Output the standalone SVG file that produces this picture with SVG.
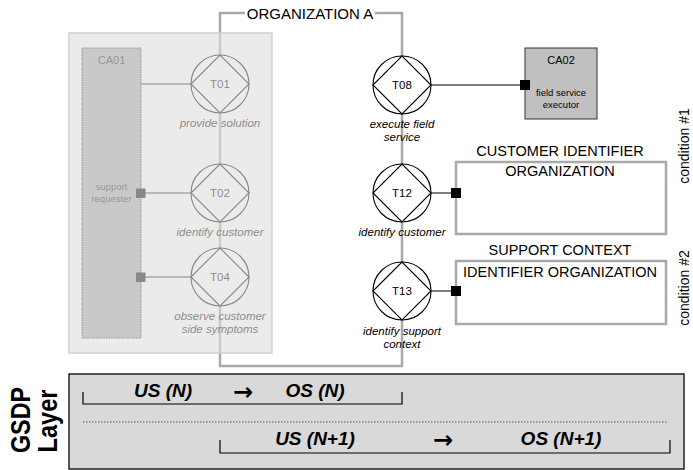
<svg xmlns="http://www.w3.org/2000/svg" width="693" height="470" viewBox="0 0 693 470">
<defs>
<style>
text{font-family:"Liberation Sans",Arial,sans-serif;}
.org{fill:none;stroke:#a9a9a9;stroke-width:2.5;}
.tc{fill:#fff;stroke:#000;stroke-width:1.1;}
.td{fill:none;stroke:#000;stroke-width:1.1;}
.tl{font-size:11.5px;text-anchor:middle;fill:#000;}
.ti{font-size:11.5px;font-style:italic;text-anchor:middle;fill:#000;}
.ln{stroke:#000;stroke-width:1.1;fill:none;}
.sq{fill:#000;}
.cap{font-size:14.5px;text-anchor:middle;fill:#000;}
.box{fill:#fff;stroke:#a9a9a9;stroke-width:2.5;}
.row{font-size:19px;font-weight:bold;font-style:italic;text-anchor:middle;fill:#000;}
.arr{font-family:"DejaVu Sans",sans-serif;font-size:24px;font-weight:bold;text-anchor:middle;fill:#000;}
.brk{fill:none;stroke:#000;stroke-width:1.2;}
.cond{font-size:14px;text-anchor:middle;fill:#000;}
</style>
<g id="task">
<circle class="tc" cx="0" cy="0" r="29"/>
<path class="td" d="M-29,0 L0,-29 L29,0 L0,29 Z"/>
</g>
</defs>

<g id="organization-a">
<path class="org" d="M245,13 H220 V366 H402 V13 H375"/>
<text x="310" y="19" font-size="15" text-anchor="middle" fill="#000">ORGANIZATION A</text>
</g>

<g id="left-part">
<g id="CA01">
<rect x="82" y="48" width="59" height="290" fill="#a8a8a8" stroke="#222" stroke-width="1" stroke-dasharray="1.5 1"/>
<text x="111.5" y="64" font-size="11" text-anchor="middle" fill="#222">CA01</text>
<text x="111.5" y="190" font-size="9.5" text-anchor="middle" fill="#222">support</text>
<text x="111.5" y="202" font-size="9.5" text-anchor="middle" fill="#222">requester</text>
</g>
<g id="left-connectors">
<path class="ln" d="M141,84 H191 M141,193 H191 M141,277 H191"/>
<rect class="sq" x="136" y="188.5" width="9.5" height="9.5"/>
<rect class="sq" x="136" y="272.5" width="9.5" height="9.5"/>
</g>
<g id="T01">
<use href="#task" x="220" y="84"/>
<text class="tl" x="220" y="88">T01</text>
<text class="ti" x="220" y="127">provide solution</text>
</g>
<g id="T02">
<use href="#task" x="220" y="193"/>
<text class="tl" x="220" y="197">T02</text>
<text class="ti" x="220" y="236">identify customer</text>
</g>
<g id="T04">
<use href="#task" x="220" y="277"/>
<text class="tl" x="220" y="281">T04</text>
<text class="ti" x="220" y="320">observe customer</text>
<text class="ti" x="220" y="333">side symptoms</text>
</g>
<rect id="fade-panel" x="69" y="33" width="203" height="320" fill="#dfdfdf" fill-opacity="0.61" stroke="#cfcfcf" stroke-width="1.5"/>
</g>

<g id="connectors">
<path class="ln" d="M431,85 H525 M431,193 H456 M431,291 H456"/>
</g>

<g id="T08">
<use href="#task" x="402" y="85"/>
<text class="tl" x="402" y="89">T08</text>
<text class="ti" x="402" y="128">execute field</text>
<text class="ti" x="402" y="141">service</text>
</g>
<g id="T12">
<use href="#task" x="402" y="193"/>
<text class="tl" x="402" y="197">T12</text>
<text class="ti" x="402" y="236">identify customer</text>
</g>
<g id="T13">
<use href="#task" x="402" y="291"/>
<text class="tl" x="402" y="295">T13</text>
<text class="ti" x="402" y="335">identify support</text>
<text class="ti" x="402" y="348">context</text>
</g>

<g id="CA02">
<rect x="525" y="48" width="72" height="71" fill="#c0c0c0" stroke="#333" stroke-width="1"/>
<text x="561" y="64" font-size="11" text-anchor="middle" fill="#000">CA02</text>
<text x="561" y="96" font-size="9.5" text-anchor="middle" fill="#000">field service</text>
<text x="561" y="108" font-size="9.5" text-anchor="middle" fill="#000">executor</text>
<rect class="sq" x="520" y="80" width="10" height="10"/>
</g>

<g id="customer-identifier-organization">
<text class="cap" x="560" y="156">CUSTOMER IDENTIFIER</text>
<rect class="box" x="456" y="162" width="210" height="72"/>
<text class="cap" x="560" y="176">ORGANIZATION</text>
<rect class="sq" x="451" y="188" width="10" height="10"/>
</g>

<g id="support-context-identifier-organization">
<text class="cap" x="560" y="255">SUPPORT CONTEXT</text>
<rect class="box" x="456" y="261" width="210" height="63"/>
<text class="cap" x="560" y="277">IDENTIFIER ORGANIZATION</text>
<rect class="sq" x="451" y="286" width="10" height="10"/>
</g>

<g id="conditions">
<text class="cond" x="689" y="146" transform="rotate(-90 689 146)">condition #1</text>
<text class="cond" x="689" y="288" transform="rotate(-90 689 288)">condition #2</text>
</g>

<g id="gsdp-layer">
<text x="30" y="420" font-size="28" font-weight="bold" text-anchor="middle" textLength="66" lengthAdjust="spacingAndGlyphs" transform="rotate(-90 30 420)" fill="#000">GSDP</text>
<text x="57" y="421" font-size="28" font-weight="bold" text-anchor="middle" textLength="63" lengthAdjust="spacingAndGlyphs" transform="rotate(-90 57 421)" fill="#000">Layer</text>
<rect x="69" y="374" width="615" height="95" fill="#d9d9d9" stroke="#222" stroke-width="1.5"/>
<path class="brk" d="M83,392 V404 H402 V392"/>
<text class="row" x="163" y="397">US (N)</text>
<text class="arr" x="243" y="400">→</text>
<text class="row" x="315" y="397">OS (N)</text>
<line x1="83" y1="422" x2="668" y2="422" stroke="#555" stroke-width="1" stroke-dasharray="1.5 1.5"/>
<path class="brk" d="M220,440 V453 H670 V440"/>
<text class="row" x="315" y="445">US (N+1)</text>
<text class="arr" x="443" y="448">→</text>
<text class="row" x="561" y="445">OS (N+1)</text>
</g>
</svg>
